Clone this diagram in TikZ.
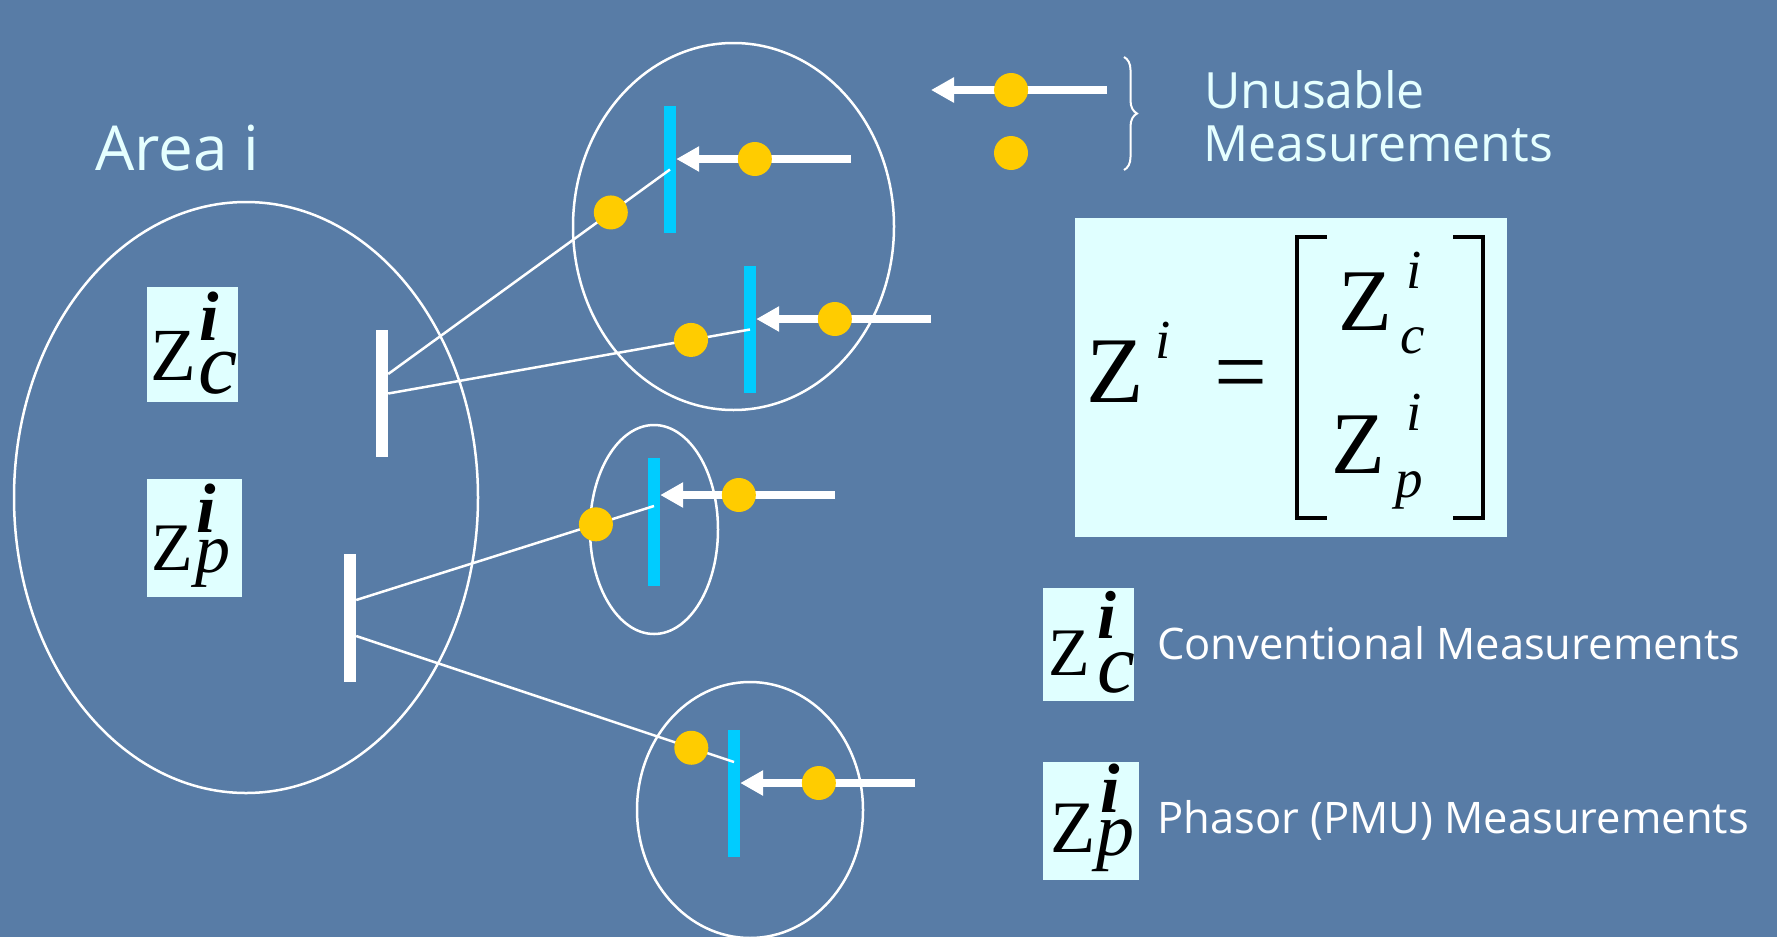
\documentclass[tikz,border=0pt]{standalone}
\usepackage{fontspec}
\setmainfont{Open Sans}
\newfontfamily\tms{Liberation Serif}
\usetikzlibrary{shapes.geometric,arrows.meta,decorations.pathreplacing,calc}
\definecolor{bg}{RGB}{88,124,166}
\definecolor{dotc}{RGB}{255,204,0}
\definecolor{busc}{RGB}{0,204,255}
\definecolor{boxc}{RGB}{224,255,255}
\definecolor{txtc}{RGB}{229,255,255}
\newcommand\fsz[1]{\fontsize{#1}{#1}\selectfont}
\begin{document}
\begin{tikzpicture}[x=1pt,y=-1pt,
  area/.style={draw=white, line width=2.5pt, ellipse, inner sep=0},
  wbus/.style={fill=white, draw=none, rectangle, minimum width=12pt, minimum height=127pt, inner sep=0},
  bbus/.style={fill=busc, draw=none, rectangle, minimum width=12pt, minimum height=127pt, inner sep=0},
  link/.style={draw=white, line width=2.5pt},
  meas/.style={draw=white, line width=8pt, -{Triangle[length=23pt,width=24pt]}},
  dot/.style={circle, fill=dotc, draw=none, minimum size=34pt, inner sep=0},
  zbox/.style={fill=boxc, draw=none, rectangle, inner sep=0, anchor=north west},
  zexp/.style={font=\tms, text=black, inner sep=0, anchor=base west},
  lbl/.style={font=\fsz{#1}, inner sep=0, anchor=base west},
  brk/.style={draw=black, line width=4pt, line cap=butt, line join=miter}
]
\useasboundingbox (0,0) rectangle (1777,937);
\fill[bg] (0,0) rectangle (1777,937);

% areas
\node[area, minimum width=464pt, minimum height=591pt] (areaI) at (246,497.5) {};
\node[area, minimum width=321pt, minimum height=367pt] (ar1) at (733.5,226.5) {};
\node[area, minimum width=128pt, minimum height=209pt] (ar2) at (654,529.5) {};
\node[area, minimum width=226pt, minimum height=256pt] (ar3) at (750,810) {};

% buses
\node[wbus] (ub) at (382,393.5) {};
\node[wbus, minimum height=128pt] (lb) at (350,618) {};
\node[bbus] (b1) at (670,169.5) {};
\node[bbus] (b2) at (750,329.5) {};
\node[bbus, minimum height=128pt] (b3) at (654,522) {};
\node[bbus] (b4) at (734,793.5) {};

% tie lines with unusable measurements
\draw[link] ($(ub.east)+(0,-19.5)$) -- (b1.center) node[dot, pos=0.79] (d1) {};
\draw[link] (ub.east) -- (b2.center) node[dot, pos=0.837] (d2) {};
\draw[link] ($(lb.east)+(0,-18)$) -- ($(b3.center)+(0,-16)$) node[dot, pos=0.805] (d3) {};
\draw[link] ($(lb.east)+(0,18)$) -- ($(b4.center)+(0,-31.5)$) node[dot, pos=0.887] (d4) {};

% injection measurements
\coordinate (s1) at (851,159);
\coordinate (s2) at (931,319);
\coordinate (s3) at (835,495);
\coordinate (s4) at (915,783);
\draw[meas] (s1) -- ($(b1.east)+(0,-10.5)$) node[dot, pos=0.55] (m1) {};
\draw[meas] (s2) -- ($(b2.east)+(0,-10.5)$) node[dot, pos=0.55] (m2) {};
\draw[meas] (s3) -- ($(b3.east)+(0,-27)$) node[dot, pos=0.55] (m3) {};
\draw[meas] (s4) -- ($(b4.east)+(0,-10.5)$) node[dot, pos=0.55] (m4) {};

% legend of unusable measurements
\coordinate (ls) at (1107,90);
\coordinate (lt) at (931,90);
\draw[meas] (ls) -- (lt) node[dot, pos=0.545] (ld1) {};
\node[dot] (ld2) at (1011,153) {};
\draw[draw=white, line width=2pt, decorate, decoration={brace, amplitude=13pt}] (1124,57) -- (1124,170);
\node[lbl=50, text=txtc] (un1) at (1204,108) {Unusable};
\node[lbl=50, text=txtc] (un2) at (1203,161) {Measurements};

% Area label
\node[lbl=62, text=txtc] (areatxt) at (95,170) {Area i};

% left boxes
\node[zbox, minimum width=91pt, minimum height=115pt] (bc) at (147,287) {};
\node[zexp] (bcz) at (150,380) {\fsz{75}Z\kern2.5pt\rlap{\kern1pt\raisebox{40pt}{\bfseries\itshape\fsz{70}i}}\raisebox{-13pt}{\itshape\fsz{88}c}};
\node[zbox, minimum width=95pt, minimum height=118pt] (bp) at (147,479) {};
\node[zexp] (bpz) at (151,570) {\fsz{68}Z\kern2.5pt\rlap{\kern1pt\raisebox{38pt}{\bfseries\itshape\fsz{70}i}}\raisebox{-2pt}{\itshape\fsz{70}p}};

% formula box
\node[zbox, minimum width=432pt, minimum height=319pt] (fbox) at (1075,218) {};
\node[zexp] (fz) at (1086,402) {\fsz{94}Z\kern12pt\raisebox{44pt}{\itshape\fsz{55}i}};
\node[zexp] (feq) at (1214,403) {\fsz{94}=};
\draw[brk] (1327,237) -- (1297,237) -- (1297,518) -- (1327,518);
\draw[brk] (1453,237) -- (1483,237) -- (1483,518) -- (1453,518);
\node[zexp] (fcz) at (1338,330) {\fsz{88}Z\kern9pt\rlap{\kern6pt\raisebox{42pt}{\itshape\fsz{55}i}}\raisebox{-23pt}{\itshape\fsz{55}c}};
\node[zexp] (fpz) at (1331,473) {\fsz{88}Z\kern11pt\rlap{\kern11pt\raisebox{43pt}{\itshape\fsz{55}i}}\raisebox{-24pt}{\itshape\fsz{55}p}};

% legend boxes
\node[zbox, minimum width=91pt, minimum height=113pt] (lc) at (1043,588) {};
\node[zexp] (lcz) at (1048,675) {\fsz{68}Z\kern8pt\rlap{\raisebox{37pt}{\bfseries\itshape\fsz{68}i}}\raisebox{-17pt}{\itshape\fsz{85}c}};
\node[lbl=43.5, text=white] (conv) at (1157,659) {Conventional Measurements};
\node[zbox, minimum width=96pt, minimum height=118pt] (lp) at (1043,762) {};
\node[zexp] (lpz) at (1050,852) {\fsz{74}Z\kern1.5pt\rlap{\kern4pt\raisebox{40pt}{\bfseries\itshape\fsz{70}i}}\raisebox{-3pt}{\itshape\fsz{76}p}};
\node[lbl=43.5, text=white] (phas) at (1157,833) {Phasor (PMU) Measurements};
\end{tikzpicture}
\end{document}
